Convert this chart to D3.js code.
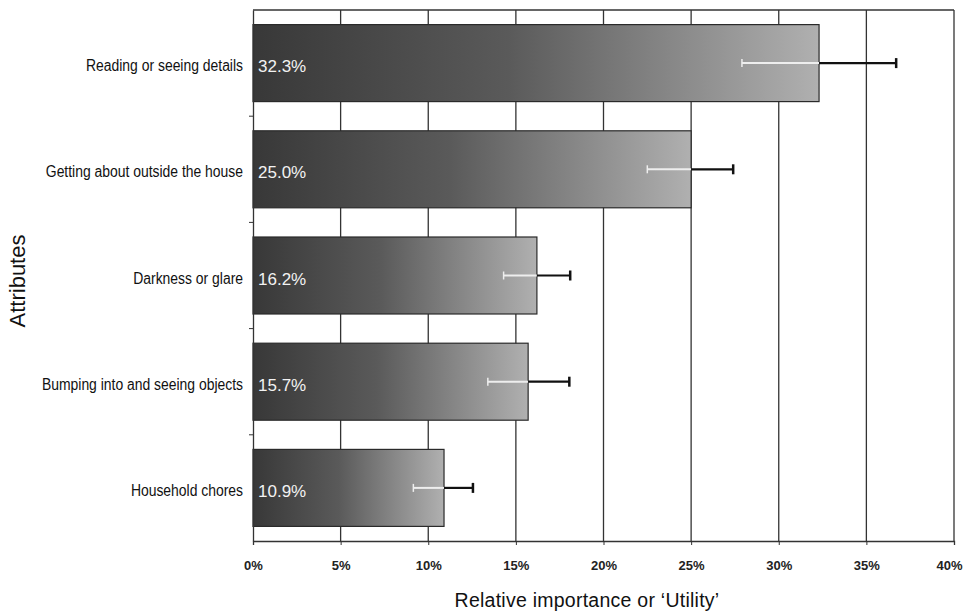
<!DOCTYPE html>
<html>
 <head>
  <title>Relative importance</title>
  <style>
  body { margin: 0; background: #fff; }
  svg { font-family: "Liberation Sans", Arial, sans-serif; }
  </style>
 </head>
 <body>
  <script src="https://cdnjs.cloudflare.com/ajax/libs/d3/7.8.3/d3.min.js"></script>
  <script>
   // values (percent)
   const attributes = ["Reading or seeing details", "Getting about outside the house", "Darkness or glare",
                       "Bumping into and seeing objects", "Household chores"];
   const utility = [32.3, 25.0, 16.2, 15.7, 10.9];
   const errLow = [27.9, 22.5, 14.3, 13.4, 9.15];
   const errHigh = [36.7, 27.4, 18.1, 18.05, 12.55];
   const xTicks = [0, 5, 10, 15, 20, 25, 30, 35, 40];

   const dataset = attributes.map((a, i) => ({name: a, v: utility[i], lo: errLow[i], hi: errHigh[i]}));

   const w = 963, h = 613;
   const padL = 253, padR = 954, padT = 10, padB = 541;

   const svg = d3.select("body").append("svg")
                 .attr("width", w)
                 .attr("height", h);

   const xScale = d3.scaleLinear().domain([0, 40]).range([padL, padR]);
   const yScale = d3.scaleBand().domain(attributes).range([padT, padB])
                    .paddingInner(0.275).paddingOuter(0.1375);

   const grad = svg.append("defs").append("linearGradient")
                   .attr("id", "barGrad")
                   .attr("x1", 0).attr("x2", 1).attr("y1", 0).attr("y2", 0);
   grad.append("stop").attr("offset", "0%").attr("stop-color", "#383838");
   grad.append("stop").attr("offset", "45%").attr("stop-color", "#5a5a5a");
   grad.append("stop").attr("offset", "100%").attr("stop-color", "#b0b0b0");

   // gridlines
   svg.append("g").selectAll("line")
      .data(xTicks.slice(1))
      .enter().append("line")
      .attr("x1", d => xScale(d)).attr("x2", d => xScale(d))
      .attr("y1", padT).attr("y2", padB)
      .attr("stroke", "#333").attr("stroke-width", 1.3);
   svg.append("line")
      .attr("x1", padL).attr("x2", padR).attr("y1", padT).attr("y2", padT)
      .attr("stroke", "#333").attr("stroke-width", 1.3);

   // bars
   svg.selectAll("rect.bar")
      .data(dataset)
      .enter().append("rect")
      .attr("class", "bar")
      .attr("x", xScale(0))
      .attr("y", d => yScale(d.name))
      .attr("width", d => xScale(d.v) - xScale(0))
      .attr("height", yScale.bandwidth())
      .attr("fill", "url(#barGrad)")
      .attr("stroke", "#2a2a2a")
      .attr("stroke-width", 1.2);

   // error bars: light part inside, dark part outside
   const mid = d => yScale(d.name) + yScale.bandwidth() / 2;
   const eb = svg.append("g").selectAll("g").data(dataset).enter().append("g");
   eb.append("line")
     .attr("x1", d => xScale(d.lo)).attr("x2", d => xScale(d.v))
     .attr("y1", mid).attr("y2", mid)
     .attr("stroke", "#eee").attr("stroke-width", 2);
   eb.append("line")
     .attr("x1", d => xScale(d.lo)).attr("x2", d => xScale(d.lo))
     .attr("y1", d => mid(d) - 4).attr("y2", d => mid(d) + 4)
     .attr("stroke", "#eee").attr("stroke-width", 1.5);
   eb.append("line")
     .attr("x1", d => xScale(d.v)).attr("x2", d => xScale(d.hi))
     .attr("y1", mid).attr("y2", mid)
     .attr("stroke", "#111").attr("stroke-width", 2.2);
   eb.append("line")
     .attr("x1", d => xScale(d.hi)).attr("x2", d => xScale(d.hi))
     .attr("y1", d => mid(d) - 5).attr("y2", d => mid(d) + 5)
     .attr("stroke", "#111").attr("stroke-width", 2.5);

   // value labels
   svg.selectAll("text.val")
      .data(dataset)
      .enter().append("text")
      .attr("class", "val")
      .attr("x", xScale(0) + 5)
      .attr("y", d => mid(d) + 9)
      .attr("fill", "#f2f2f2")
      .attr("font-size", 17)
      .text(d => d.v.toFixed(1) + "%");

   // axes
   const xAxis = d3.axisBottom(xScale).tickValues(xTicks).tickSize(4).tickFormat(d => d + "%");
   const gx = svg.append("g")
      .attr("transform", "translate(0," + padB + ")")
      .call(xAxis);
   gx.select(".domain").attr("stroke", "#333").attr("stroke-width", 1.3);
   gx.selectAll(".tick line").attr("stroke", "#333");
   gx.selectAll("text").attr("font-size", 13).attr("font-weight", "bold").attr("fill", "#222")
     .attr("y", 29).attr("dy", 0)
     .attr("dx", d => d === 40 ? -5 : 0);

   // condensed-looking category labels
   const sx = 0.87;
   const yAxis = d3.axisLeft(yScale).tickSize(0).tickPadding(10);
   const gy = svg.append("g")
      .attr("transform", "translate(" + padL + ",0)")
      .call(yAxis);
   gy.select(".domain").attr("stroke", "#333").attr("stroke-width", 1.3);
   gy.selectAll("text").attr("font-size", 16).attr("fill", "#111")
     .attr("x", -10 / sx).attr("dy", "0.5em")
     .attr("transform", "scale(" + sx + ",1)");
   // small ticks between the bands
   gy.selectAll("line.sep")
     .data(attributes.slice(1))
     .enter().append("line")
     .attr("class", "sep")
     .attr("x1", -4).attr("x2", 0)
     .attr("y1", d => yScale(d) - yScale.step() * yScale.paddingInner() / 2)
     .attr("y2", d => yScale(d) - yScale.step() * yScale.paddingInner() / 2)
     .attr("stroke", "#333");

   svg.append("text")
      .attr("x", 587)
      .attr("y", 607)
      .attr("text-anchor", "middle")
      .attr("font-size", 19.5)
      .attr("letter-spacing", 0.25)
      .attr("fill", "#111")
      .text("Relative importance or \u2018Utility\u2019");

   svg.append("text")
      .attr("transform", "translate(25,281) rotate(-90)")
      .attr("text-anchor", "middle")
      .attr("font-size", 22)
      .attr("fill", "#111")
      .text("Attributes");
  </script>
 </body>
</html>
